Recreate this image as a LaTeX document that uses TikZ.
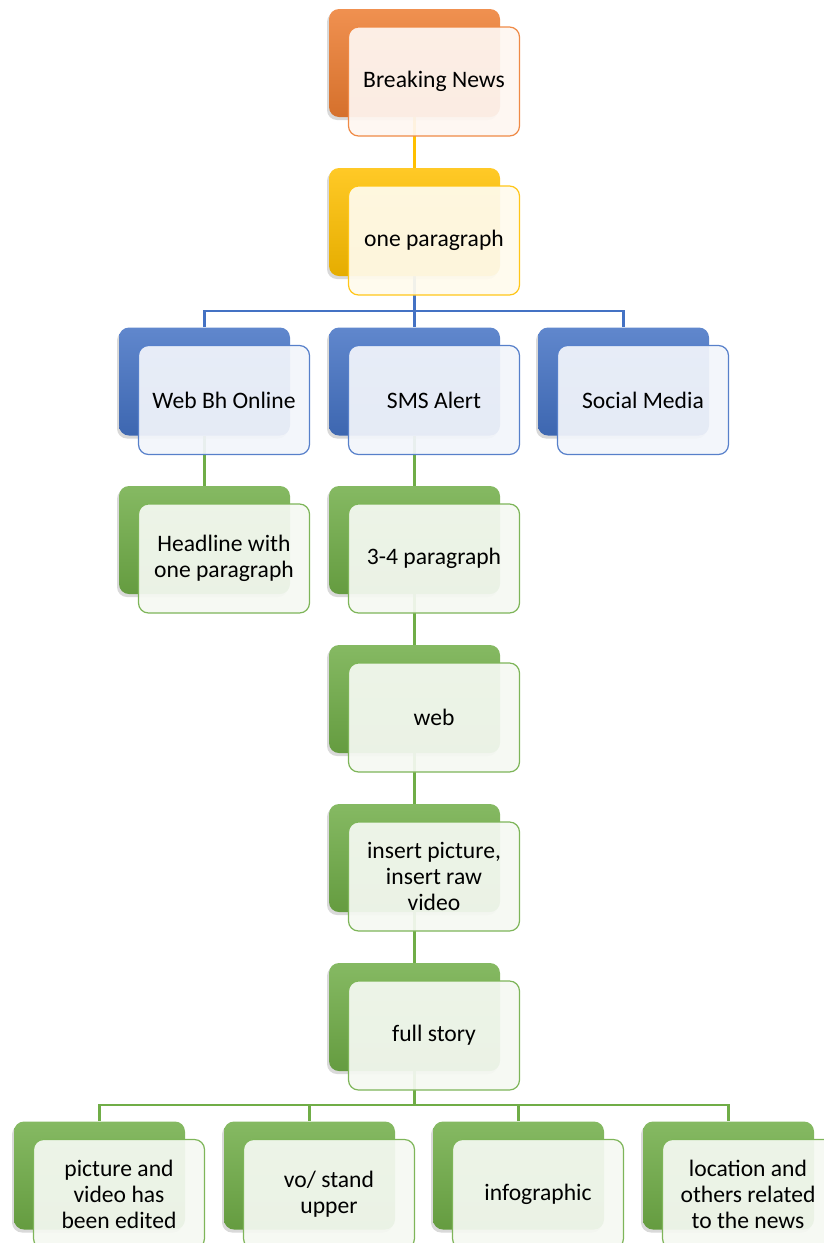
\documentclass[tikz,border=0pt]{standalone}
\usepackage{fontspec}
\setmainfont{Carlito}
\usetikzlibrary{shadows,backgrounds}

\definecolor{orangeA}{HTML}{ED7D31}
\definecolor{goldA}{HTML}{FFC000}
\definecolor{blueA}{HTML}{4472C4}
\definecolor{greenA}{HTML}{70AD47}

\tikzset{
  back/.style={rounded corners=5pt, minimum width=85.5pt, minimum height=54pt,
    top color=#1!85!white, bottom color=#1!90!black,
    drop shadow={shadow xshift=-1pt, shadow yshift=-1.5pt, opacity=0.3}},
  front/.style={rounded corners=5pt, minimum width=85.5pt, minimum height=54.5pt,
    draw=#1!90!white, line width=0.6pt, fill=#1!7!white, fill opacity=0.93, text opacity=1,
    align=center, font=\fontsize{11.8}{13}\selectfont},
  link/.style={draw=#1, line width=1.1pt},
}

\begin{document}
\begin{tikzpicture}[x=0.5pt, y=-0.5pt]
  \useasboundingbox (0,0) rectangle (824,1243);
  \clip (0,0) rectangle (824,1243);

  % level 1 and 2
  \node[back=orangeA] (news-b) at (414.5,63) {};
  \node[front=orangeA] (news) at (434,81.5) {Breaking News};
  \node[back=goldA] (para-b) at (414.5,222) {};
  \node[front=goldA] (para) at (434,240.5) {one paragraph};

  % channels
  \node[back=blueA] (web-b) at (204.5,381.5) {};
  \node[front=blueA] (web) at (224,400) {Web Bh Online};
  \node[back=blueA] (sms-b) at (414.5,381.5) {};
  \node[front=blueA] (sms) at (434,400) {SMS Alert};
  \node[back=blueA] (soc-b) at (623.5,381.5) {};
  \node[front=blueA] (soc) at (643,400) {Social Media};

  % web column
  \node[back=greenA] (head-b) at (204.5,540) {};
  \node[front=greenA] (head) at (224,558.5) {Headline with\\one paragraph};
  \node[back=greenA] (four-b) at (414.5,540) {};
  \node[front=greenA] (four) at (434,558.5) {3-4 paragraph};
  \node[back=greenA] (site-b) at (414.5,699) {};
  \node[front=greenA] (site) at (434,717.5) {web};
  \node[back=greenA] (ins-b) at (414.5,858) {};
  \node[front=greenA] (ins) at (434,876.5) {insert picture,\\insert raw\\video};
  \node[back=greenA] (full-b) at (414.5,1017) {};
  \node[front=greenA] (full) at (434,1035.5) {full story};

  % last row
  \node[back=greenA] (pic-b) at (99.5,1175.5) {};
  \node[front=greenA] (pic) at (119,1194) {picture and\\video has\\been edited};
  \node[back=greenA] (vo-b) at (309.5,1175.5) {};
  \node[front=greenA] (vo) at (329,1194) {vo/ stand\\upper};
  \node[back=greenA] (info-b) at (518.5,1175.5) {};
  \node[front=greenA] (info) at (538,1194) {infographic};
  \node[back=greenA] (loc-b) at (728.5,1175.5) {};
  \node[front=greenA] (loc) at (748,1194) {location and\\others related\\to the news};

  % connectors
  \begin{scope}[on background layer]
    \coordinate (bus1) at (414.5,311);
    \coordinate (bus2) at (414.5,1105);
    \draw[link=goldA] (news-b.south) -- (para-b.north);
    \draw[link=blueA] (para-b.south) -- (sms-b.north);
    \draw[link=blueA] (web-b.north) |- (bus1) -| (soc-b.north);
    \draw[link=greenA] (web-b.south) -- (head-b.north);
    \draw[link=greenA] (sms-b.south) -- (four-b.north);
    \draw[link=greenA] (four-b.south) -- (site-b.north);
    \draw[link=greenA] (site-b.south) -- (ins-b.north);
    \draw[link=greenA] (ins-b.south) -- (full-b.north);
    \draw[link=greenA] (full-b.south) -- (bus2);
    \draw[link=greenA] (pic-b.north) |- (bus2) -| (loc-b.north);
    \draw[link=greenA] (vo-b.north) |- (bus2);
    \draw[link=greenA] (info-b.north) |- (bus2);
  \end{scope}
\end{tikzpicture}
\end{document}
